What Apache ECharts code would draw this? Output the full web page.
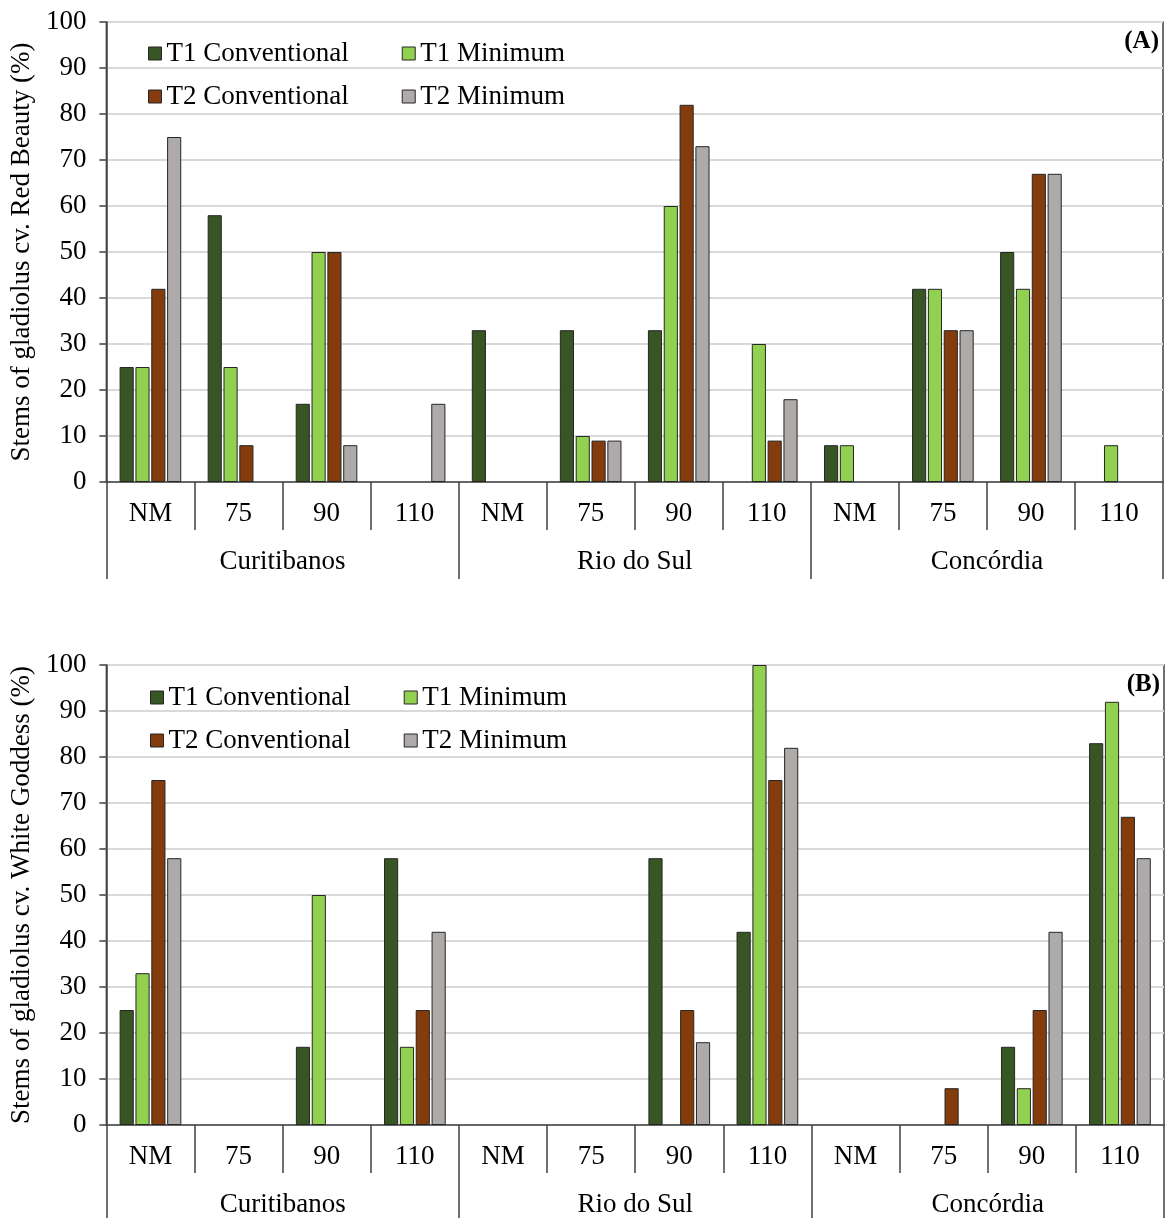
<!DOCTYPE html>
<html>
<head>
<meta charset="utf-8">
<script src="https://cdn.jsdelivr.net/npm/echarts@6/dist/echarts.min.js"></script>
<style>
html,body{margin:0;padding:0;background:#fff;}
#chart{width:1165px;height:1218px;}
</style>
</head>
<body>
<div id="chart"></div>
<script>
// ---- data ----
const groups = ['Curitibanos', 'Rio do Sul', 'Concórdia'];
const levels = ['NM', '75', '90', '110'];
const seriesNames = ['T1 Conventional', 'T1 Minimum', 'T2 Conventional', 'T2 Minimum'];
const yTicks = [0, 10, 20, 30, 40, 50, 60, 70, 80, 90, 100];

// Panel A: cv. Red Beauty
const redT1Conv = [25, 58, 17, 0, 33, 33, 33, 0, 8, 42, 50, 0];
const redT1Min  = [25, 25, 50, 0, 0, 10, 60, 30, 8, 42, 42, 8];
const redT2Conv = [42, 8, 50, 0, 0, 9, 82, 9, 0, 33, 67, 0];
const redT2Min  = [75, 0, 8, 17, 0, 9, 73, 18, 0, 33, 67, 0];

// Panel B: cv. White Goddess
const whiteT1Conv = [25, 0, 17, 58, 0, 0, 58, 42, 0, 0, 17, 83];
const whiteT1Min  = [33, 0, 50, 17, 0, 0, 0, 100, 0, 0, 8, 92];
const whiteT2Conv = [75, 0, 0, 25, 0, 0, 25, 75, 0, 8, 25, 67];
const whiteT2Min  = [58, 0, 0, 42, 0, 0, 18, 82, 0, 0, 42, 58];

const colors = ['#375623', '#92d050', '#843c0c', '#aeaaaa'];

// ---- build ----
const categories = [];
groups.forEach(() => levels.forEach(l => categories.push(l)));

const FONT = '"Liberation Serif", "Times New Roman", serif';
const AX = '#404040';

const grids = [
  {left: 103, right: 2, top: 22, height: 460, show: true, borderColor: AX, borderWidth: 1.5},
  {left: 105, right: 1, top: 665, height: 462, show: true, borderColor: AX, borderWidth: 1.5}
];

const xAxes = [];
const yAxes = [];
[0, 1].forEach(g => {
  xAxes.push({
    type: 'category', gridIndex: g, data: categories, position: 'bottom',
    axisLine: {show: true, lineStyle: {color: AX, width: 1.5}},
    axisTick: {show: true, interval: 0, length: 48, lineStyle: {color: AX, width: 1.5}},
    axisLabel: {interval: 0, margin: 18, fontSize: 27, color: '#000', fontFamily: FONT},
    splitLine: {show: false}
  });
  xAxes.push({
    type: 'category', gridIndex: g, data: groups, position: 'bottom',
    axisLine: {show: false},
    axisTick: {show: true, interval: 0, length: 97, lineStyle: {color: AX, width: 1.5}},
    axisLabel: {interval: 0, margin: 66, fontSize: 27, color: '#000', fontFamily: FONT},
    splitLine: {show: false}
  });
  yAxes.push({
    type: 'value', gridIndex: g, min: yTicks[0], max: yTicks[yTicks.length - 1], interval: yTicks[1] - yTicks[0],
    name: g === 0 ? 'Stems of gladiolus cv. Red Beauty (%)' : 'Stems of gladiolus cv. White Goddess (%)',
    nameLocation: 'middle', nameGap: 62,
    nameTextStyle: {fontSize: 27, color: '#000', fontFamily: FONT},
    axisLine: {show: true, lineStyle: {color: AX, width: 1.5}},
    axisTick: {show: true, length: 7, lineStyle: {color: AX, width: 1.5}},
    axisLabel: {margin: 20, fontSize: 27, color: '#000', fontFamily: FONT},
    splitLine: {show: true, lineStyle: {color: '#d9d9d9', width: 2}}
  });
});

const panelData = [
  [redT1Conv, redT1Min, redT2Conv, redT2Min],
  [whiteT1Conv, whiteT1Min, whiteT2Conv, whiteT2Min]
];

const series = [];
panelData.forEach((arrs, g) => {
  arrs.forEach((arr, i) => {
    series.push({
      type: 'bar', name: seriesNames[i], xAxisIndex: g * 2, yAxisIndex: g,
      // zero values are drawn as empty slots (no visible bar), as in the original
      data: arr.map(v => (v === 0 ? '-' : v)),
      barCategoryGap: '30%', barGap: '12%',
      itemStyle: {color: colors[i], borderColor: '#262626', borderWidth: 1},
      emphasis: {disabled: true},
      animation: false
    });
  });
});

function legend(left, top, names) {
  return {
    left: left, top: top, padding: 0, orient: 'horizontal',
    itemWidth: 13, itemHeight: 13, itemGap: 53, icon: 'rect',
    data: names,
    itemStyle: {borderColor: '#262626', borderWidth: 1},
    textStyle: {fontSize: 27, color: '#000', fontFamily: FONT},
    selectedMode: false
  };
}

const option = {
  backgroundColor: '#fff',
  animation: false,
  title: [
    {text: '(A)', right: 6, top: 29, padding: 0, textStyle: {fontSize: 25, fontWeight: 'bold', color: '#000', fontFamily: FONT}},
    {text: '(B)', right: 5, top: 672, padding: 0, textStyle: {fontSize: 25, fontWeight: 'bold', color: '#000', fontFamily: FONT}}
  ],
  legend: [
    legend(148, 40, [seriesNames[0], seriesNames[1]]),
    legend(148, 83, [seriesNames[2], seriesNames[3]]),
    legend(150, 684, [seriesNames[0], seriesNames[1]]),
    legend(150, 727, [seriesNames[2], seriesNames[3]])
  ],
  grid: grids,
  xAxis: xAxes,
  yAxis: yAxes,
  series: series
};

const chart = echarts.init(document.getElementById('chart'), null, {renderer: 'canvas'});
chart.setOption(option);
</script>
</body>
</html>
